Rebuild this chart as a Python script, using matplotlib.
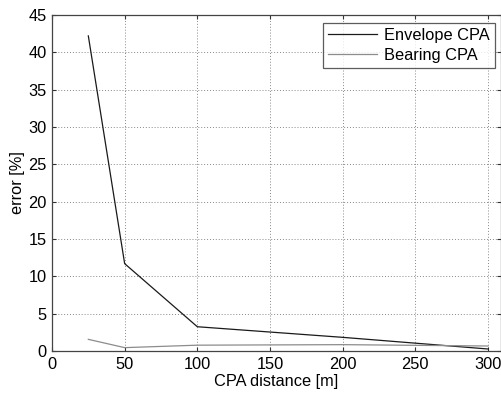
import matplotlib
matplotlib.use("Agg")
import matplotlib.pyplot as plt

plt.rcParams['font.family'] = ['Liberation Sans', 'DejaVu Sans']

cpa = [25, 50, 100, 200, 300]
envelope = [42.2, 11.7, 3.25, 1.83, 0.27]
bearing = [1.56, 0.45, 0.78, 0.85, 0.67]
xticks = [0, 50, 100, 150, 200, 250, 300]
yticks = [0, 5, 10, 15, 20, 25, 30, 35, 40, 45]

fig = plt.figure(figsize=(5.02, 3.97), dpi=100)
ax = fig.add_axes([52/502, 1 - 351/397, (501-52)/502, (351-15)/397])

ax.plot(cpa, envelope, color='#1a1a1a', lw=0.9, label='Envelope CPA')
ax.plot(cpa, bearing, color='#8c8c8c', lw=0.9, label='Bearing CPA')

ax.set_xlim(0, 309)
ax.set_ylim(0, 45)
ax.set_xticks(xticks)
ax.set_yticks(yticks)
ax.tick_params(direction='in', length=3, labelsize=11.8, top=True, right=True, color='#333333', pad=4)
ax.grid(True, linestyle=(0, (1, 2)), color='#888888', lw=0.7)
for s in ax.spines.values():
    s.set_color('#444444')
    s.set_linewidth(0.9)

ax.set_xlabel('CPA distance [m]', fontsize=11.8, labelpad=2)
ax.set_ylabel('error [%]', fontsize=11.8, labelpad=2)

leg = ax.legend(loc='upper right', bbox_to_anchor=((495-52)/(501-52), (351-23)/(351-15)),
                fontsize=11.8, frameon=True, fancybox=False, borderaxespad=0,
                handlelength=3.0, handletextpad=0.45, borderpad=0.3, labelspacing=0.32)
leg.get_frame().set_edgecolor('#333333')
leg.get_frame().set_linewidth(0.9)

fig.savefig('out.png', dpi=100)
